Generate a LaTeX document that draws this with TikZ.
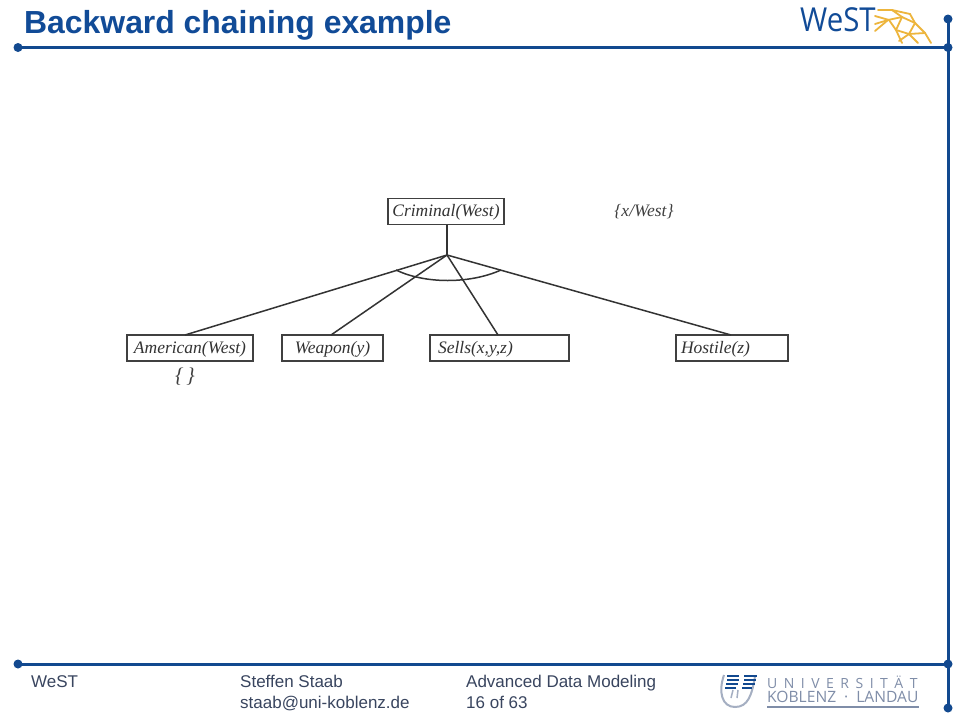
\documentclass[tikz,border=0pt]{standalone}
\usepackage{graphicx}
\usepackage{fontspec}
\setmainfont{Liberation Sans}
\newfontfamily\diagfont{Liberation Serif}
\newfontfamily\logofont{Open Sans}
\definecolor{frameblue}{HTML}{12498F}
\definecolor{titleblue}{HTML}{114B97}
\definecolor{meshgold}{HTML}{EDB53C}
\definecolor{footgray}{HTML}{39455F}
\definecolor{unigray}{HTML}{7F8DA8}
\tikzset{
  frameline/.style={draw=frameblue,line width=3pt},
  framedot/.style={circle,fill=frameblue,minimum size=9pt,inner sep=0pt},
  goalbox/.style={draw=black!75,line width=1.5pt,minimum height=26pt,inner sep=0pt,text height=14pt,text depth=4pt,font=\diagfont\itshape\fontsize{17.5}{17.5}\selectfont,text=black!80},
  goaltext/.style={font=\diagfont\itshape\fontsize{17.5}{17.5}\selectfont,text=black!75,inner sep=0pt},
  link/.style={draw=black!80,line width=1.5pt},
  foot/.style={font=\fontsize{17}{19}\selectfont,anchor=base west,inner sep=0pt,text=footgray},
  mesh/.style={draw=meshgold,line width=1.8pt,line cap=round}
}
\begin{document}
\begin{tikzpicture}[x=1pt,y=-1pt]
\useasboundingbox (0,0) rectangle (960,720);
\fill[white] (0,0) rectangle (960,720);
% frame
\node[framedot] (tl) at (18,47.5) {};
\node[framedot] (tr) at (948,19) {};
\node[framedot] (trc) at (948,47.5) {};
\node[framedot] (bl) at (18,664) {};
\node[framedot] (brc) at (948,664) {};
\node[framedot] (br) at (948,708) {};
\draw[frameline] (tl.center) -- (trc.center);
\draw[frameline] (bl.center) -- (brc.center);
\draw[frameline] (tr.center) -- (br.center);
% title
\node[anchor=base west,inner sep=0pt,text=titleblue,font=\bfseries\fontsize{31.9}{32}\selectfont] (title) at (24,33) {Backward chaining example};
% mesh of the WeST logo
\draw[mesh] (875,24)--(888,20)--(902,17)--(915,23)--(925,33)--(931,43);
\draw[mesh] (875,16)--(889,20)--(896,30)--(902,43);
\draw[mesh] (878,10)--(892,10)--(902,17)--(896,30);
\draw[mesh] (892,10)--(910,14)--(915,23)--(909,34)--(918,43);
\draw[mesh] (896,30)--(909,34)--(925,33);
\draw[mesh] (875,31)--(888,20);
\draw[mesh] (909,34)--(899,41);
% WeST logo text
\node[anchor=west,inner sep=0pt,text=titleblue,font=\logofont\fontsize{33}{33}\selectfont] (west) at (800,20) {\scalebox{.89}[1]{WeST}};
% diagram
\node[goalbox,minimum width=116pt] (criminal) at (446,211.5) {Criminal(West)};
\node[goaltext] (subst) at (644,211.5) {\{x/West\}};
\node[goalbox,minimum width=126pt] (american) at (190,348) {American(West)};
\node[goalbox,minimum width=101pt] (weapon) at (332.5,348) {Weapon(y)};
\node[goalbox,minimum width=139pt,text width=123pt,align=left] (sells) at (499.5,348) {Sells(x,y,z)};
\node[goalbox,minimum width=112pt,text width=102pt,align=left] (hostile) at (732,348) {Hostile(z)};
\node[goaltext,font=\diagfont\itshape\fontsize{21}{21}\selectfont] (empty) at (185,377) {\{\hspace{3pt}\}};
\coordinate (j) at (447,255);
\coordinate (crimfoot) at (447,224.5);
\coordinate (ac) at (185,335);
\coordinate (wc) at (331,335);
\coordinate (sc) at (498,335);
\coordinate (hc) at (731,335);
\coordinate (arcl) at (396,270);
\coordinate (arcr) at (501,270);
\draw[link] (crimfoot) -- (j);
\draw[link] (j) -- (ac);
\draw[link] (j) -- (wc);
\draw[link] (j) -- (sc);
\draw[link] (j) -- (hc);
\draw[link] (arcl) .. controls (425,284) and (470,284) .. (arcr);
% footer
\node[foot] (f1) at (31,687) {WeST};
\node[foot] (f2) at (240,687) {Steffen Staab};
\node[foot] (f3) at (240,708) {staab@uni-koblenz.de};
\node[foot] (f4) at (466,687) {Advanced Data Modeling};
\node[foot] (f5) at (466,708) {16 of 63};
% university logo
\node[anchor=west,inner sep=0pt,text=unigray,font=\logofont\fontsize{14}{14}\selectfont] (uni1) at (767,682) {U\hspace{6.5pt}N\hspace{6.5pt}I\hspace{6.5pt}V\hspace{6.5pt}E\hspace{6.5pt}R\hspace{6.5pt}S\hspace{6.5pt}I\hspace{6.5pt}T\hspace{6.5pt}Ä\hspace{6.5pt}T};
\node[anchor=west,inner sep=0pt,text=unigray,font=\logofont\fontsize{15.6}{15.6}\selectfont] (uni2) at (767,697) {KOBLENZ\hspace{8pt}·\hspace{8pt}LANDAU};
\draw[draw=unigray,line width=1.3pt] (767,707) -- (919,707);
\draw[draw=unigray!70,line width=2pt] (724,675) .. controls (718,692) and (722,707) .. (735,707) .. controls (748,707) and (752,695) .. (755,676);
\draw[draw=unigray!70,line width=1.5pt] (733,690) -- (731,698) (738,690)--(737,698);
\draw[draw=frameblue,line width=1.4pt] (727,676)--(739,676) (727,680)--(739,680) (726,684)--(738,684) (725,688)--(736,688);
\draw[draw=frameblue,line width=1.4pt] (744,676)--(757,676) (744,680)--(756,680) (743,684)--(755,684) (742,688)--(752,688);
\end{tikzpicture}
\end{document}
